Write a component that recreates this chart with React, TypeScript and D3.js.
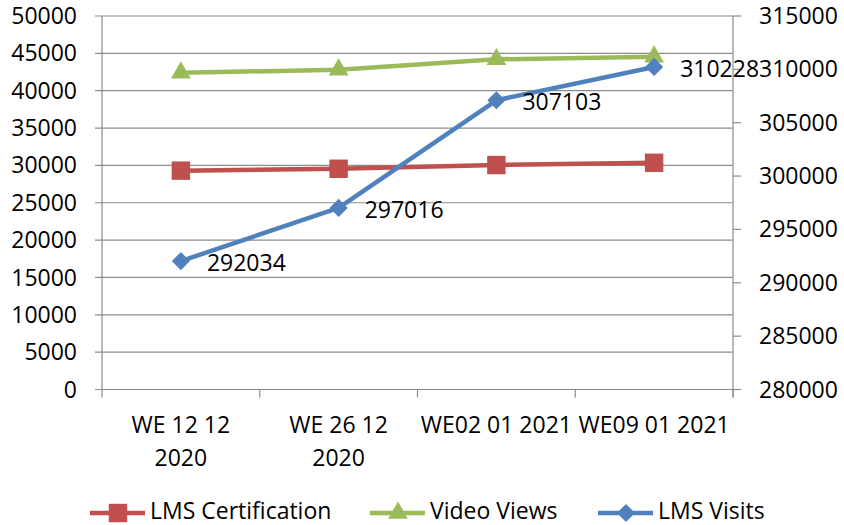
import * as React from 'react'
import * as d3 from 'd3'

const WIDTH = 844
const HEIGHT = 525
const PLOT_LEFT = 102
const PLOT_RIGHT = 733
const PLOT_TOP = 16
const PLOT_BOTTOM = 389.5
const LEGEND_Y = 511
const FONT = '"Open Sans", sans-serif'

// categories, wrapped as Excel did it
const categories = ['WE 12 12 2020', 'WE 26 12 2020', 'WE02 01 2021', 'WE09 01 2021']
const categoryLines = [['WE 12 12', '2020'], ['WE 26 12', '2020'], ['WE02 01 2021'], ['WE09 01 2021']]

const lmsCertification = [29300, 29550, 30050, 30350]
const videoViews = [42400, 42800, 44200, 44550]
const lmsVisits = [292034, 297016, 307103, 310228]

const leftTicks = [0, 5000, 10000, 15000, 20000, 25000, 30000, 35000, 40000, 45000, 50000]
const rightTicks = [280000, 285000, 290000, 295000, 300000, 305000, 310000, 315000]

const RED = '#C0504D'
const GREEN = '#9BBB59'
const BLUE = '#4F81BD'
const GRID = '#8c8c8c'

const xScale = d3.scaleBand<string>().domain(categories).range([PLOT_LEFT, PLOT_RIGHT])
const xMid = (c: string) => (xScale(c) ?? 0) + xScale.bandwidth() / 2
const yLeft = d3.scaleLinear().domain([0, 50000]).range([PLOT_BOTTOM, PLOT_TOP])
const yRight = d3.scaleLinear().domain([280000, 315000]).range([PLOT_BOTTOM, PLOT_TOP])

const squarePath = d3.symbol().type(d3.symbolSquare).size(340)()
const trianglePath = d3.symbol().type(d3.symbolTriangle).size(170)()
const diamondPath = d3.symbol().type(d3.symbolDiamond2).size(210)()

interface SeriesProps {
  values: number[]
  scale: d3.ScaleLinear<number, number>
  color: string
  marker: string | null
  labels?: boolean
}

function Series({ values, scale, color, marker, labels }: SeriesProps) {
  const line = d3
    .line<number>()
    .x((d, i) => xMid(categories[i]))
    .y(d => scale(d))
  return (
    <g>
      <path d={line(values) ?? ''} fill="none" stroke={color} strokeWidth={4.5} strokeLinejoin="round" />
      {values.map((v, i) => (
        <path
          key={i}
          d={marker ?? ''}
          transform={`translate(${xMid(categories[i])},${scale(v)})`}
          fill={color}
        />
      ))}
      {labels &&
        values.map((v, i) => (
          <text
            key={'l' + i}
            x={xMid(categories[i]) + 26}
            y={scale(v) + 2}
            dy="0.35em"
            fontSize={23}
            fontFamily={FONT}
            fill="#000"
          >
            {v}
          </text>
        ))}
    </g>
  )
}

const legendItems = [
  { name: 'LMS Certification', color: RED, marker: squarePath, x: 90 },
  { name: 'Video Views', color: GREEN, marker: trianglePath, x: 370 },
  { name: 'LMS Visits', color: BLUE, marker: diamondPath, x: 598 }
]

export default function App() {
  const boundaries = categories.map(c => xScale(c) ?? 0).concat([PLOT_RIGHT])
  return (
    <svg
      width={WIDTH}
      height={HEIGHT}
      style={{ position: 'absolute', left: 0, top: 0, background: '#fff' }}
    >
      {/* gridlines + left axis */}
      {leftTicks.map(t => (
        <g key={t}>
          <line x1={95} x2={PLOT_RIGHT} y1={yLeft(t)} y2={yLeft(t)} stroke={GRID} strokeWidth={1.2} />
          <text
            x={77}
            y={yLeft(t)}
            dy="0.35em"
            textAnchor="end"
            fontSize={23}
            fontFamily={FONT}
            fill="#000"
          >
            {t}
          </text>
        </g>
      ))}
      <line x1={PLOT_LEFT} x2={PLOT_LEFT} y1={PLOT_TOP} y2={PLOT_BOTTOM} stroke={GRID} strokeWidth={1.2} />
      {/* right axis */}
      <line x1={PLOT_RIGHT} x2={PLOT_RIGHT} y1={PLOT_TOP} y2={PLOT_BOTTOM + 8} stroke={GRID} strokeWidth={1.2} />
      {rightTicks.map(t => (
        <g key={t}>
          <line x1={PLOT_RIGHT} x2={741} y1={yRight(t)} y2={yRight(t)} stroke={GRID} strokeWidth={1.2} />
          <text x={759} y={yRight(t)} dy="0.35em" fontSize={23} fontFamily={FONT} fill="#000">
            {t}
          </text>
        </g>
      ))}
      {/* x axis */}
      {boundaries.map((b, i) => (
        <line key={i} x1={b} x2={b} y1={PLOT_BOTTOM} y2={PLOT_BOTTOM + 8} stroke={GRID} strokeWidth={1.2} />
      ))}
      {categories.map((c, i) => (
        <text key={c} x={xMid(c)} y={425} textAnchor="middle" fontSize={23} fontFamily={FONT} fill="#000">
          {categoryLines[i].map((ln, j) => (
            <tspan key={j} x={xMid(c)} y={425 + j * 33} dy="0.35em">
              {ln}
            </tspan>
          ))}
        </text>
      ))}
      <Series values={lmsCertification} scale={yLeft} color={RED} marker={squarePath} />
      <Series values={videoViews} scale={yLeft} color={GREEN} marker={trianglePath} />
      <Series values={lmsVisits} scale={yRight} color={BLUE} marker={diamondPath} labels />
      {/* legend */}
      {legendItems.map(item => (
        <g key={item.name}>
          <line x1={item.x} x2={item.x + 55} y1={LEGEND_Y + 2} y2={LEGEND_Y + 2} stroke={item.color} strokeWidth={4.5} />
          <path d={item.marker ?? ''} transform={`translate(${item.x + 28},${LEGEND_Y + 2})`} fill={item.color} />
          <text x={item.x + 60} y={LEGEND_Y} dy="0.35em" fontSize={23} fontFamily={FONT} fill="#000">
            {item.name}
          </text>
        </g>
      ))}
    </svg>
  )
}
